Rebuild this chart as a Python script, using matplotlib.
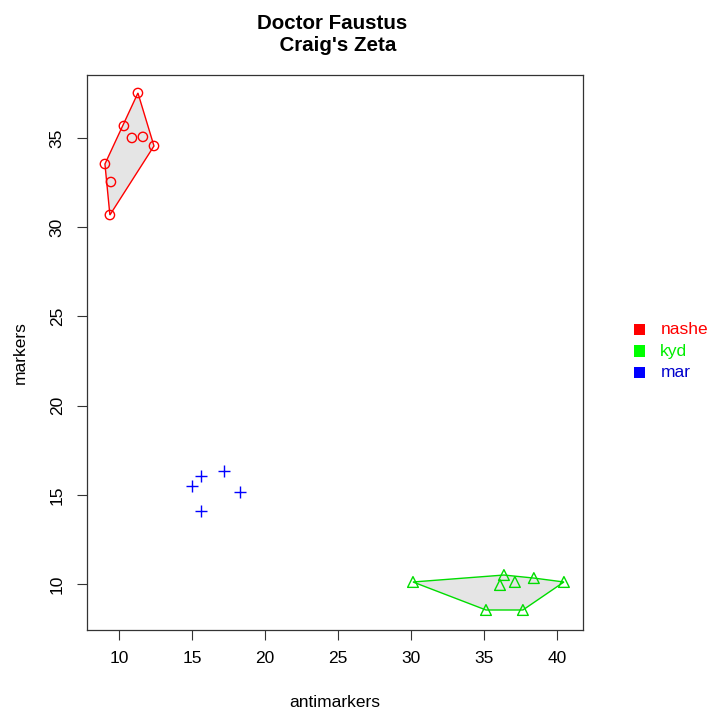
import numpy as np
import matplotlib
matplotlib.use("Agg")
import matplotlib.pyplot as plt

plt.rcParams['font.family'] = ['Liberation Sans', 'DejaVu Sans']

# data
nashe_x = [9.04, 9.45, 9.38, 10.34, 11.30, 10.89, 11.64, 12.40]
nashe_y = [33.54, 32.53, 30.68, 35.67, 37.52, 35.00, 35.06, 34.55]
kyd_x = [30.14, 36.37, 36.10, 37.12, 38.42, 40.48, 35.14, 37.67]
kyd_y = [10.11, 10.50, 9.94, 10.11, 10.33, 10.11, 8.54, 8.54]
mar_x = [15.62, 15.00, 17.19, 18.29, 15.62]
mar_y = [16.05, 15.49, 16.33, 15.16, 14.09]

groups = ["nashe", "kyd", "mar"]
colours = {"nashe": "#FF0000", "kyd": "#00DD00", "mar": "#0000FF"}
legend_cols = {"nashe": "#FF0000", "kyd": "#00FF00", "mar": "#0000FF"}
text_cols = {"nashe": "#FF0000", "kyd": "#00EE00", "mar": "#0000CC"}


def hull(px, py):
    pts = sorted(set(zip(px, py)))

    def cross(o, a, b):
        return (a[0] - o[0]) * (b[1] - o[1]) - (a[1] - o[1]) * (b[0] - o[0])

    lower = []
    for p in pts:
        while len(lower) >= 2 and cross(lower[-2], lower[-1], p) <= 0:
            lower.pop()
        lower.append(p)
    upper = []
    for p in reversed(pts):
        while len(upper) >= 2 and cross(upper[-2], upper[-1], p) <= 0:
            upper.pop()
        upper.append(p)
    return np.array(lower[:-1] + upper[:-1])


fig = plt.figure(figsize=(7.1, 7.12), dpi=100)
ax = fig.add_axes([0.1225, 0.1152, 0.6985, 0.7795])

for name, xs, ys in [("nashe", nashe_x, nashe_y), ("kyd", kyd_x, kyd_y)]:
    h = hull(xs, ys)
    ax.fill(h[:, 0], h[:, 1], facecolor="#E5E5E5", edgecolor=colours[name], linewidth=1.0, zorder=1)

ax.scatter(nashe_x, nashe_y, s=45, facecolors="none", edgecolors=colours["nashe"], marker="o", linewidths=1.0, zorder=3)
ax.scatter(kyd_x, kyd_y, s=60, facecolors="none", edgecolors=colours["kyd"], marker="^", linewidths=1.0, zorder=3)
ax.scatter(mar_x, mar_y, s=80, c=colours["mar"], marker="+", linewidths=1.0, zorder=3)

ax.set_xlim(7.81, 41.78)
ax.set_ylim(7.42, 38.53)
ax.set_xticks([10, 15, 20, 25, 30, 35, 40])
ax.set_yticks([10, 15, 20, 25, 30, 35])
ax.tick_params(direction="out", length=7, width=0.8, labelsize=12.5, colors="#333333", labelcolor="black")
ax.tick_params(axis="x", pad=8)
ax.tick_params(axis="y", pad=9)
for lab in ax.get_yticklabels():
    lab.set_rotation(90)
    lab.set_va("center")
for s in ax.spines.values():
    s.set_linewidth(0.9)
    s.set_color("#333333")

ax.set_xlabel("antimarkers", fontsize=12.5, labelpad=21)
ax.set_ylabel("markers", fontsize=12.5, labelpad=16)
ax.set_title("Doctor Faustus\n  Craig's Zeta", fontsize=14.8, fontweight="bold", pad=17,
             linespacing=1.25, x=0.494)

# legend outside at the right
for i, name in enumerate(groups):
    yy = 0.537 - i * 0.030
    fig.patches.append(plt.Rectangle((0.893, yy - 0.008), 0.016, 0.016, transform=fig.transFigure,
                                     facecolor=legend_cols[name], edgecolor="none"))
    fig.text(0.93, yy, name, color=text_cols[name], fontsize=12.5, va="center", ha="left")

fig.savefig("out.png", dpi=100)
